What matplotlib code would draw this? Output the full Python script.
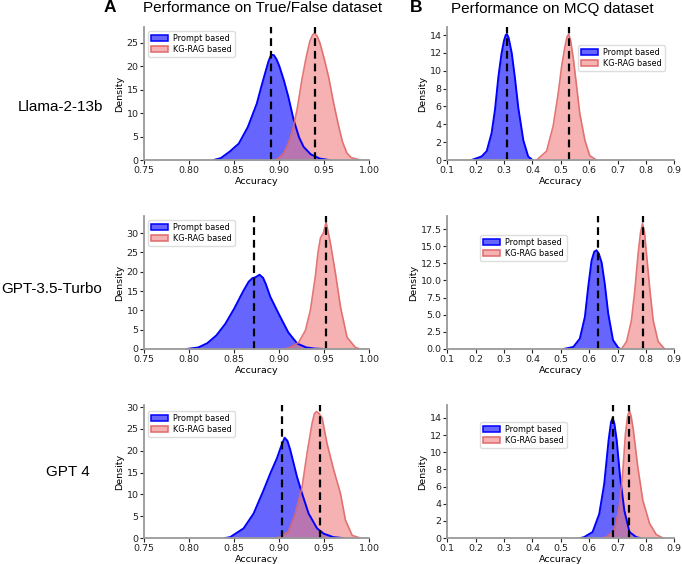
import matplotlib
matplotlib.use("Agg")
import matplotlib.pyplot as plt
from matplotlib.patches import Patch

# --- Llama-2-13b, True/False
llama_tf_prompt_acc = [0.827, 0.835, 0.845, 0.855, 0.865, 0.875, 0.880, 0.885, 0.888, 0.891,
                       0.894, 0.897, 0.900, 0.905, 0.910, 0.916, 0.922, 0.927, 0.935, 0.945, 0.955]
llama_tf_prompt_dens = [0.0, 0.4, 1.8, 3.5, 7.0, 12.0, 15.6, 19.0, 21.0, 22.4,
                        22.3, 21.4, 20.0, 17.0, 13.5, 8.5, 4.8, 2.8, 1.2, 0.3, 0.0]
llama_tf_kg_acc = [0.895, 0.900, 0.905, 0.910, 0.915, 0.920, 0.925, 0.930, 0.934, 0.937,
                   0.939, 0.942, 0.945, 0.950, 0.955, 0.960, 0.965, 0.970, 0.975, 0.980, 0.990]
llama_tf_kg_dens = [0.0, 0.5, 1.5, 3.5, 6.5, 11.0, 17.0, 22.0, 25.3, 26.6,
                    27.0, 26.4, 25.0, 21.5, 17.5, 12.5, 8.0, 4.0, 1.5, 0.5, 0.0]
llama_tf_means = [0.891, 0.940]

# --- Llama-2-13b, MCQ
llama_mcq_prompt_acc = [0.186, 0.221, 0.239, 0.256, 0.268, 0.280, 0.291, 0.300, 0.306, 0.310,
                        0.316, 0.327, 0.338, 0.350, 0.368, 0.385, 0.400]
llama_mcq_prompt_dens = [0.0, 0.4, 1.0, 3.0, 5.6, 9.3, 11.9, 13.4, 14.0, 14.1,
                         13.7, 12.0, 9.3, 5.9, 2.2, 0.4, 0.0]
llama_mcq_kg_acc = [0.415, 0.450, 0.473, 0.491, 0.503, 0.514, 0.522, 0.528, 0.535, 0.544,
                    0.556, 0.567, 0.585, 0.602, 0.625]
llama_mcq_kg_dens = [0.0, 1.0, 3.8, 7.5, 10.5, 12.6, 13.8, 14.1, 13.3, 11.4,
                     8.2, 5.2, 2.2, 0.5, 0.0]
llama_mcq_means = [0.310, 0.528]

# --- GPT-3.5-Turbo, True/False
gpt35_tf_prompt_acc = [0.797, 0.810, 0.820, 0.830, 0.840, 0.850, 0.860, 0.866, 0.870, 0.874,
                       0.878, 0.882, 0.885, 0.890, 0.900, 0.910, 0.920, 0.930, 0.940, 0.950]
gpt35_tf_prompt_dens = [0.0, 0.4, 1.5, 3.5, 6.5, 10.5, 15.0, 17.4, 18.3, 18.6,
                        19.2, 18.4, 16.8, 13.5, 8.8, 4.3, 1.4, 0.4, 0.1, 0.0]
gpt35_tf_kg_acc = [0.905, 0.912, 0.9215, 0.929, 0.9345, 0.940, 0.943, 0.9457, 0.949, 0.952,
                   0.9545, 0.9568, 0.9624, 0.968, 0.9753, 0.9846, 0.990]
gpt35_tf_kg_dens = [0.0, 0.4, 1.7, 4.8, 10.0, 18.7, 25.0, 28.7, 30.0, 32.8,
                    30.0, 27.4, 19.6, 10.9, 3.0, 0.4, 0.0]
gpt35_tf_means = [0.872, 0.952]

# --- GPT-3.5-Turbo, MCQ
gpt35_mcq_prompt_acc = [0.510, 0.544, 0.567, 0.585, 0.5965, 0.6085, 0.618, 0.626, 0.634, 0.644,
                        0.655, 0.667, 0.684, 0.702, 0.710]
gpt35_mcq_prompt_dens = [0.0, 0.3, 1.5, 4.7, 9.0, 12.9, 14.2, 14.4, 13.9, 12.6,
                         9.5, 5.2, 1.3, 0.2, 0.0]
gpt35_mcq_kg_acc = [0.714, 0.732, 0.749, 0.761, 0.7725, 0.781, 0.788, 0.795, 0.802, 0.814,
                    0.8255, 0.843, 0.866]
gpt35_mcq_kg_dens = [0.0, 1.1, 4.2, 8.6, 13.9, 17.0, 18.3, 17.0, 13.9, 8.6,
                     4.2, 1.1, 0.0]
gpt35_mcq_means = [0.632, 0.790]

# --- GPT 4, True/False
gpt4_tf_prompt_acc = [0.840, 0.8454, 0.8603, 0.8714, 0.8826, 0.890, 0.8974, 0.902, 0.9059, 0.909,
                      0.9122, 0.9197, 0.9253, 0.9326, 0.942, 0.9493, 0.960, 0.970]
gpt4_tf_prompt_dens = [0.0, 0.2, 2.2, 5.6, 11.0, 14.8, 18.3, 21.0, 23.0, 22.3,
                       20.2, 14.0, 10.2, 5.6, 2.2, 1.0, 0.2, 0.0]
gpt4_tf_kg_acc = [0.895, 0.901, 0.910, 0.9178, 0.9253, 0.9308, 0.9364, 0.939, 0.9412, 0.944,
                  0.9476, 0.953, 0.9605, 0.968, 0.9735, 0.981, 0.990]
gpt4_tf_kg_dens = [0.0, 0.2, 1.4, 5.6, 11.7, 19.4, 26.3, 28.5, 29.0, 28.6,
                   27.5, 21.7, 15.6, 10.2, 4.1, 0.6, 0.0]
gpt4_tf_means = [0.903, 0.945]

# --- GPT 4, MCQ
gpt4_mcq_prompt_acc = [0.570, 0.582, 0.612, 0.6355, 0.653, 0.6685, 0.677, 0.6827, 0.689, 0.697,
                       0.709, 0.724, 0.742, 0.766, 0.780]
gpt4_mcq_prompt_dens = [0.0, 0.1, 0.7, 2.8, 6.3, 11.4, 13.5, 14.0, 13.3, 11.4,
                        7.1, 3.2, 0.7, 0.1, 0.0]
gpt4_mcq_kg_acc = [0.650, 0.665, 0.689, 0.706, 0.718, 0.7277, 0.736, 0.742, 0.748, 0.756,
                   0.7713, 0.789, 0.8128, 0.8365, 0.860]
gpt4_mcq_kg_dens = [0.0, 0.2, 0.9, 3.6, 7.5, 12.1, 14.3, 14.8, 14.2, 12.5,
                    8.3, 4.4, 1.7, 0.4, 0.0]
gpt4_mcq_means = [0.685, 0.742]

models = ["Llama-2-13b", "GPT-3.5-Turbo", "GPT 4"]
series_labels = ["Prompt based", "KG-RAG based"]
tf_xticks = [0.75, 0.80, 0.85, 0.90, 0.95, 1.00]
mcq_xticks = [0.1, 0.2, 0.3, 0.4, 0.5, 0.6, 0.7, 0.8, 0.9]

BLUE = "blue"
RED = "lightcoral"
RED_EDGE = "#e06868"


def draw_panel(ax, prompt, kg, means, xlim, xticks, xfmt, ylim, yticks, yfmt, legend_at):
    '''
    prompt, kg - (accuracy, density) lists read off the figure
    means      - positions of the dashed lines
    legend_at  - upper-left corner of the legend, axes fraction
    '''
    ax.fill_between(prompt[0], prompt[1], color=BLUE, alpha=0.6, linewidth=0)
    ax.plot(prompt[0], prompt[1], color=BLUE, linewidth=1.4)
    ax.fill_between(kg[0], kg[1], color=RED, alpha=0.6, linewidth=0)
    ax.plot(kg[0], kg[1], color=RED_EDGE, linewidth=1.2, alpha=0.9)
    for m in means:
        ax.axvline(m, color="black", linestyle="--", linewidth=1.6, dashes=(3.5, 2.2))
    ax.set_xlim(*xlim)
    ax.set_ylim(*ylim)
    ax.set_xticks(xticks)
    ax.set_xticklabels([xfmt % t for t in xticks])
    ax.set_yticks(yticks)
    ax.set_yticklabels([yfmt % t for t in yticks])
    ax.tick_params(labelsize=6.8, length=3, width=0.8, pad=1.2, colors="#222222")
    ax.set_xlabel("Accuracy", fontsize=6.8, labelpad=1.5)
    ax.set_ylabel("Density", fontsize=6.8, labelpad=1.5)
    for side in ["top", "right"]:
        ax.spines[side].set_visible(False)
    for side in ["left", "bottom"]:
        ax.spines[side].set_color("#999999")
        ax.spines[side].set_linewidth(1.3)
    handles = [Patch(facecolor=(0, 0, 1, 0.6), edgecolor=(0, 0, 1, 1), linewidth=1.1),
               Patch(facecolor=(0.94, 0.5, 0.5, 0.6), edgecolor=(0.88, 0.41, 0.41, 1),
                     linewidth=1.1)]
    ax.legend(handles, series_labels, fontsize=5.9, handlelength=2.1, handleheight=0.8,
              borderpad=0.35, labelspacing=0.25, handletextpad=0.6, framealpha=1,
              edgecolor="#dddddd", fancybox=True, loc="upper left",
              bbox_to_anchor=legend_at, borderaxespad=0)


fig = plt.figure(figsize=(6.82, 5.64), dpi=100)

W, H = 682.0, 564.0
col_left = [144.3 / W, 447.3 / W]
col_width = [225.0 / W, 227.0 / W]
row_bottom = [1 - 160 / H, 1 - 349 / H, 1 - 538 / H]
row_height = 133.0 / H

tf_data = [
    ((llama_tf_prompt_acc, llama_tf_prompt_dens), (llama_tf_kg_acc, llama_tf_kg_dens), llama_tf_means,
     (0, 28.3), [0, 5, 10, 15, 20, 25], (0.016, 0.97)),
    ((gpt35_tf_prompt_acc, gpt35_tf_prompt_dens), (gpt35_tf_kg_acc, gpt35_tf_kg_dens), gpt35_tf_means,
     (0, 34.4), [0, 5, 10, 15, 20, 25, 30], (0.016, 0.97)),
    ((gpt4_tf_prompt_acc, gpt4_tf_prompt_dens), (gpt4_tf_kg_acc, gpt4_tf_kg_dens), gpt4_tf_means,
     (0, 30.5), [0, 5, 10, 15, 20, 25, 30], (0.016, 0.955)),
]
mcq_data = [
    ((llama_mcq_prompt_acc, llama_mcq_prompt_dens), (llama_mcq_kg_acc, llama_mcq_kg_dens), llama_mcq_means,
     (0, 14.9), [0, 2, 4, 6, 8, 10, 12, 14], "%d", (0.576, 0.865)),
    ((gpt35_mcq_prompt_acc, gpt35_mcq_prompt_dens), (gpt35_mcq_kg_acc, gpt35_mcq_kg_dens), gpt35_mcq_means,
     (0, 19.4), [0, 2.5, 5, 7.5, 10, 12.5, 15, 17.5], "%.1f", (0.144, 0.857)),
    ((gpt4_mcq_prompt_acc, gpt4_mcq_prompt_dens), (gpt4_mcq_kg_acc, gpt4_mcq_kg_dens), gpt4_mcq_means,
     (0, 15.5), [0, 2, 4, 6, 8, 10, 12, 14], "%d", (0.145, 0.872)),
]

for r in range(3):
    ax = fig.add_axes([col_left[0], row_bottom[r], col_width[0], row_height])
    p, k, m, yl, yt, la = tf_data[r]
    draw_panel(ax, p, k, m, (0.75, 1.0), tf_xticks, "%.2f", yl, yt, "%d", la)

    ax = fig.add_axes([col_left[1], row_bottom[r], col_width[1], row_height])
    p, k, m, yl, yt, yf, la = mcq_data[r]
    draw_panel(ax, p, k, m, (0.1, 0.9), mcq_xticks, "%.1f", yl, yt, yf, la)

row_label_pos = [(60, 107), (52, 289), (68, 472)]
for name, (x, y) in zip(models, row_label_pos):
    fig.text(x / W, 1 - y / H, name, fontsize=11, family="Liberation Sans",
             ha="center", va="center")

fig.text(110 / W, 1 - 8 / H, "A", fontsize=12.5, fontweight="bold", family="Liberation Sans",
         ha="center", va="center")
fig.text(263 / W, 1 - 8.5 / H, "Performance on True/False dataset", fontsize=11,
         family="Liberation Sans", ha="center", va="center")
fig.text(416 / W, 1 - 8 / H, "B", fontsize=12.5, fontweight="bold", family="Liberation Sans",
         ha="center", va="center")
fig.text(552 / W, 1 - 8.5 / H, "Performance on MCQ dataset", fontsize=11,
         family="Liberation Sans", ha="center", va="center")

fig.savefig("out.png", dpi=100)
plt.close()
